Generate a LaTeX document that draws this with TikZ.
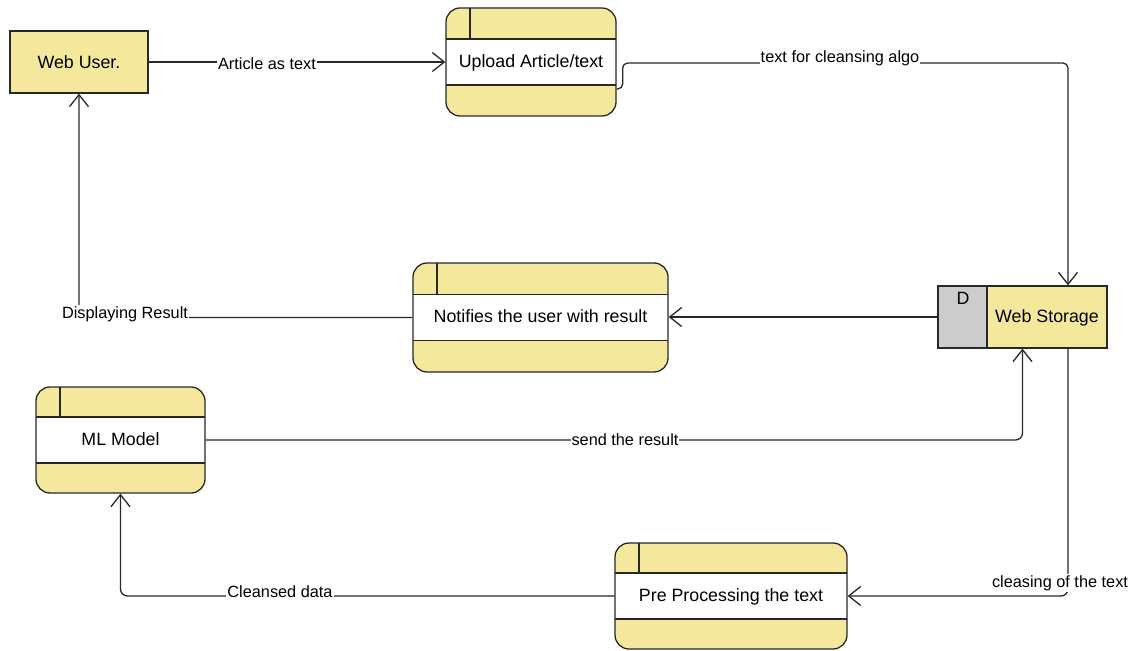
\documentclass[tikz,border=0pt]{standalone}
\usepackage{fontspec}
\setmainfont{Liberation Sans}
\usetikzlibrary{arrows.meta,calc}
\definecolor{procyellow}{RGB}{243,232,155}
\definecolor{storegray}{RGB}{204,204,204}
\definecolor{edgeline}{RGB}{40,40,40}
\tikzset{
  nodefont/.style={font=\fontsize{17.8}{20}\selectfont},
  entity/.style={draw=edgeline, line width=1.3pt, fill=procyellow, nodefont, inner sep=0pt},
  proc/.style={draw=edgeline, line width=1.3pt, fill=procyellow, rounded corners=14pt,
    nodefont, inner sep=0pt, text depth=0.25em,
    path picture={
      \fill[white, sharp corners] ([yshift=23pt]path picture bounding box.west) rectangle ([yshift=-23pt]path picture bounding box.east);
      \draw[edgeline, line width=1.3pt, sharp corners]
        ([yshift=23pt]path picture bounding box.west) -- ([yshift=23pt]path picture bounding box.east)
        ([yshift=-23pt]path picture bounding box.west) -- ([yshift=-23pt]path picture bounding box.east)
        ([xshift=24pt]path picture bounding box.north west) -- ([xshift=24pt,yshift=23pt]path picture bounding box.west);
    }},
  store/.style={draw=edgeline, line width=1.3pt, fill=procyellow, inner sep=0pt,
    path picture={
      \fill[storegray] (path picture bounding box.south west) rectangle ([xshift=49pt]path picture bounding box.north west);
      \draw[edgeline, line width=1.3pt] ([xshift=49pt]path picture bounding box.south west) -- ([xshift=49pt]path picture bounding box.north west);
    }},
  flow/.style={draw=edgeline, line width=1.3pt, rounded corners=7pt,
    -{Straight Barb[length=12pt,width=19pt,line width=1.3pt]}},
  lbl/.style={fill=white, inner sep=1pt, font=\fontsize{16.3}{18}\selectfont},
}
\begin{document}
\begin{tikzpicture}[x=1pt,y=-1pt]
\useasboundingbox (0,0) rectangle (1142,650);

% external entity and processes
\node[entity, minimum width=138pt, minimum height=62pt] (webuser) at (79,62) {Web User.};
\node[proc, minimum width=170pt, minimum height=108pt] (upload) at (531,62) {Upload Article/text};
\node[proc, minimum width=255pt, minimum height=109pt] (notify) at (540.5,317.5) {Notifies the user with result};
\node[proc, minimum width=169pt, minimum height=106pt] (ml) at (120.5,440) {ML Model};
\node[proc, minimum width=232pt, minimum height=106pt] (pre) at (731,596) {Pre Processing the text};

% data store
\node[store, minimum width=169pt, minimum height=62pt] (storage) at (1022.5,317) {};
\node[nodefont] (storeD) at (963,298) {D};
\node[nodefont] (storetxt) at (1047,318) {Web Storage};

% helper points on the store edges
\coordinate (stTop) at ([xshift=45.5pt]storage.north);
\coordinate (stBot) at ([xshift=45.5pt]storage.south);
\coordinate (upOut) at ([yshift=-27pt]upload.east);

% data flows
\draw[flow] (webuser.east) -- (upload.west);
\node[lbl] (lArticle) at (267,64) {Article as text};

\draw[flow, rounded corners=5pt] (upOut) -- ++(6,0) -- ++(0,-26) -| (stTop);
\node[lbl] (lAlgo) at (840,58) {text for cleansing algo};

\draw[flow] (storage.west) -- (storage.west -| notify.east);

\draw[flow] (notify.west) -| (webuser.south);
\node[lbl] (lDisplay) at (125,314) {Displaying Result};

\draw[flow] (ml.east) -| (storage.south);
\node[lbl] (lSend) at (625,440) {send the result};

\draw[flow] (stBot) |- (pre.east);
\node[lbl] (lCleasing) at (1060,583) {cleasing of the text};

\draw[flow] (pre.west) -| (ml.south);
\node[lbl] (lCleansed) at (280,592) {Cleansed data};
\end{tikzpicture}
\end{document}
